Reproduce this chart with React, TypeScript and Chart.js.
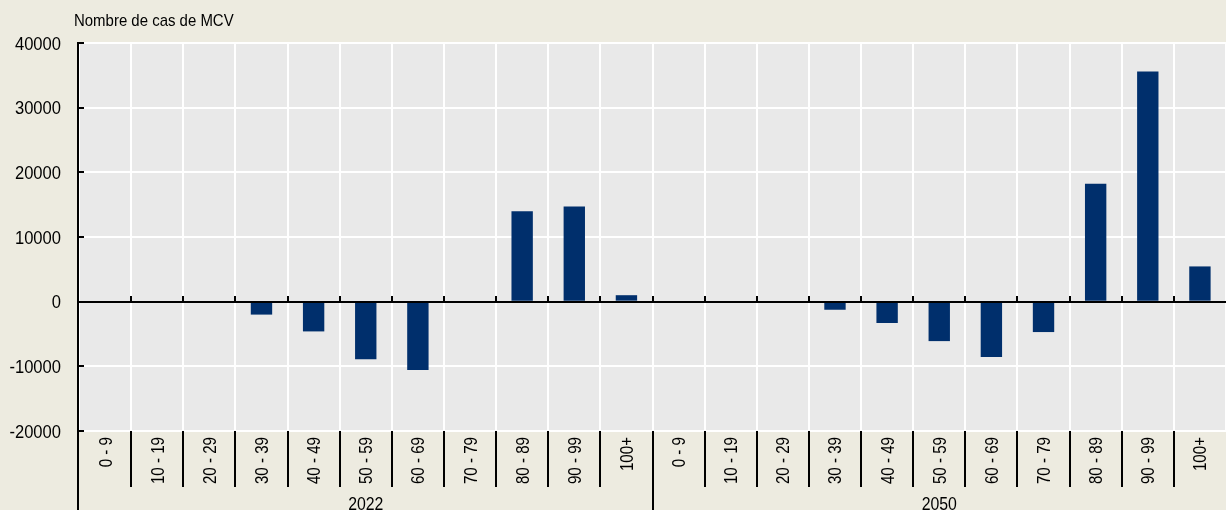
import React, { useEffect, useRef } from "react";
import { Chart, registerables } from "chart.js";

Chart.register(...registerables);

const ageGroups = ["0 - 9", "10 - 19", "20 - 29", "30 - 39", "40 - 49", "50 - 59", "60 - 69", "70 - 79", "80 - 89", "90 - 99", "100+"];
const years = ["2022", "2050"];
const values2022 = [0, 0, 0, -2000, -4600, -8900, -10550, 0, 14000, 14700, 1000];
const values2050 = [0, 0, 0, -1250, -3300, -6100, -8550, -4700, 18250, 35600, 5450];
const yTicks = [-20000, -10000, 0, 10000, 20000, 30000, 40000];
const yTitle = "Nombre de cas de MCV";

const BG = "#EDEBE0";
const PLOT = "#E9E9E9";
const BAR = "#002F6C";
const FONT = "'Liberation Sans', Arial, sans-serif";

function drawText(
  ctx: CanvasRenderingContext2D,
  text: string,
  x: number,
  y: number,
  size: number,
  sx: number,
  align: CanvasTextAlign,
  rotate = 0
) {
  ctx.save();
  ctx.translate(x, y);
  if (rotate) ctx.rotate(rotate);
  ctx.scale(sx, 1);
  ctx.font = `${size}px ${FONT}`;
  ctx.textAlign = align;
  ctx.textBaseline = "alphabetic";
  ctx.fillStyle = "#000";
  ctx.fillText(text, 0, 0);
  ctx.restore();
}

export default function App() {
  const ref = useRef<HTMLCanvasElement | null>(null);

  useEffect(() => {
    document.body.style.margin = "0";
    const canvas = ref.current;
    if (!canvas) return;
    const labels = [...ageGroups, ...ageGroups];
    const data = [...values2022, ...values2050];

    const deco = {
      id: "deco",
      beforeDraw(chart: any) {
        const { ctx, chartArea: a } = chart;
        ctx.save();
        ctx.fillStyle = PLOT;
        ctx.fillRect(a.left, a.top, a.right - a.left, a.bottom - a.top);
        ctx.restore();
      },
      afterDatasetsDraw(chart: any) {
        const { ctx, chartArea: a, scales } = chart;
        const x = scales.x;
        const y = scales.y;
        const n = labels.length;
        const bounds: number[] = [];
        for (let i = 1; i < n; i++) {
          bounds.push((x.getPixelForValue(i - 1) + x.getPixelForValue(i)) / 2);
        }
        ctx.save();
        ctx.strokeStyle = "#000";
        ctx.lineWidth = 2;
        const y0 = Math.round(y.getPixelForValue(0));
        ctx.beginPath();
        ctx.moveTo(a.left, y0);
        ctx.lineTo(a.right, y0);
        ctx.stroke();
        bounds.forEach((bx) => {
          ctx.beginPath();
          ctx.moveTo(Math.round(bx), y0);
          ctx.lineTo(Math.round(bx), y0 - 6);
          ctx.stroke();
        });
        ctx.beginPath();
        ctx.moveTo(a.left - 1, a.top);
        ctx.lineTo(a.left - 1, chart.height);
        ctx.stroke();
        yTicks.forEach((v) => {
          const py = Math.round(y.getPixelForValue(v));
          ctx.beginPath();
          ctx.moveTo(a.left - 2, py);
          ctx.lineTo(a.left + 5, py);
          ctx.stroke();
        });
        bounds.forEach((bx, i) => {
          const isGroup = i + 1 === ageGroups.length;
          ctx.beginPath();
          ctx.moveTo(Math.round(bx), a.bottom);
          ctx.lineTo(Math.round(bx), isGroup ? chart.height : a.bottom + 56);
          ctx.stroke();
        });
        ctx.restore();

        // y tick labels
        yTicks.forEach((v) => {
          const py = y.getPixelForValue(v);
          drawText(ctx, String(v), 61, py + 6.5, 18, 0.92, "right");
        });
        // x tick labels (rotated)
        labels.forEach((lab, i) => {
          const cx = x.getPixelForValue(i);
          drawText(ctx, lab, cx + 6.5, a.bottom + 6, 18, 0.84, "right", -Math.PI / 2);
        });
        // group labels
        years.forEach((yr, g) => {
          const first = g * ageGroups.length;
          const last = first + ageGroups.length - 1;
          const cx = (x.getPixelForValue(first) + x.getPixelForValue(last)) / 2;
          drawText(ctx, yr, cx, chart.height, 18, 0.88, "center");
        });
        // title
        drawText(ctx, yTitle, 74, 26, 17, 0.88, "left");
      },
    };

    const chart = new Chart(canvas, {
      type: "bar",
      data: {
        labels,
        datasets: [
          {
            data,
            backgroundColor: BAR,
            borderWidth: 0,
            barPercentage: 1,
            categoryPercentage: 0.41,
          },
        ],
      },
      options: {
        animation: false,
        responsive: false,
        maintainAspectRatio: false,
        layout: { padding: { top: 43, right: 0, left: 0, bottom: 0 } },
        plugins: { legend: { display: false }, tooltip: { enabled: false } },
        scales: {
          x: {
            type: "category",
            position: "bottom",
            offset: true,
            grid: { color: "#FFFFFF", lineWidth: 2, offset: true, drawTicks: false },
            border: { display: false },
            ticks: { display: false, autoSkip: false },
            afterFit: (s: any) => {
              s.height = 79;
            },
          },
          y: {
            min: -20000,
            max: 40000,
            afterBuildTicks: (s: any) => {
              s.ticks = yTicks.map((v) => ({ value: v }));
            },
            grid: { color: "#FFFFFF", lineWidth: 2, drawTicks: false },
            border: { display: false },
            ticks: { display: false },
            afterFit: (s: any) => {
              s.width = 79;
            },
          },
        },
      },
      plugins: [deco],
    });
    return () => chart.destroy();
  }, []);

  return (
    <div style={{ width: 1226, height: 510, background: BG }}>
      <canvas ref={ref} width={1226} height={510} style={{ display: "block" }} />
    </div>
  );
}
